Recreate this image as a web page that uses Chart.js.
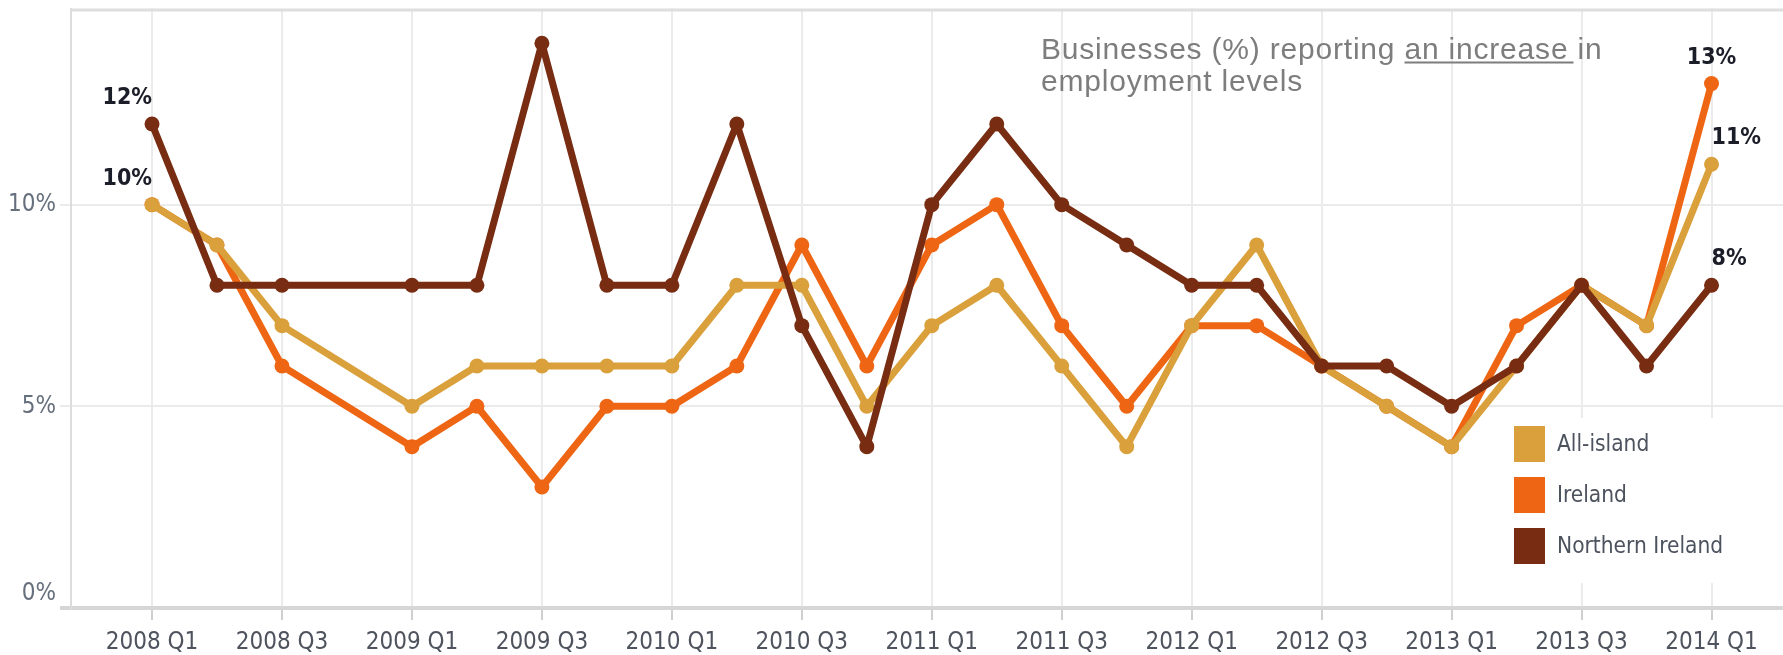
<!DOCTYPE html>
<html>
<head>
<meta charset="utf-8">
<title>Employment levels</title>
<script src="https://cdn.jsdelivr.net/npm/chart.js@4.4.1/dist/chart.umd.min.js"></script>
<style>
  html, body { margin: 0; padding: 0; background: #fff; }
  #wrap { width: 1783px; height: 655px; position: relative; }
</style>
</head>
<body>
<div id="wrap"><canvas id="employmentChart"></canvas></div>
<script>
const quarters = ['2008 Q1', '2008 Q2', '2008 Q3', '2008 Q4', '2009 Q1', '2009 Q2', '2009 Q3', '2009 Q4',
  '2010 Q1', '2010 Q2', '2010 Q3', '2010 Q4', '2011 Q1', '2011 Q2', '2011 Q3', '2011 Q4',
  '2012 Q1', '2012 Q2', '2012 Q3', '2012 Q4', '2013 Q1', '2013 Q2', '2013 Q3', '2013 Q4', '2014 Q1'];
const allIsland = [10, 9, 7, null, 5, 6, 6, 6, 6, 8, 8, 5, 7, 8, 6, 4, 7, 9, 6, 5, 4, 6, 8, 7, 11];
const ireland = [10, 9, 6, null, 4, 5, 3, 5, 5, 6, 9, 6, 9, 10, 7, 5, 7, 7, 6, 5, 4, 7, 8, 7, 13];
const northernIreland = [12, 8, 8, null, 8, 8, 14, 8, 8, 12, 7, 4, 10, 12, 10, 9, 8, 8, 6, 6, 5, 6, 8, 6, 8];
const yTicks = [0, 5, 10];

const NARROW = "'DejaVu Sans Condensed', 'Liberation Sans Narrow', 'Arial Narrow', sans-serif";
const WIDE = "'Liberation Sans', Arial, sans-serif";

function points(values) {
  return values.map((v, i) => ({ x: i, y: v }));
}

// frame line along the top of the plot
const topBorder = {
  id: 'topBorder',
  beforeDatasetsDraw(chart) {
    const { ctx, chartArea } = chart;
    ctx.save();
    ctx.strokeStyle = '#dedede';
    ctx.lineWidth = 3;
    ctx.beginPath();
    ctx.moveTo(chartArea.left, chartArea.top + 1);
    ctx.lineTo(chartArea.right, chartArea.top + 1);
    ctx.stroke();
    ctx.restore();
  }
};

// value labels at the first and last quarter
const endLabels = {
  id: 'endLabels',
  afterDatasetsDraw(chart) {
    const ctx = chart.ctx;
    ctx.save();
    ctx.font = 'bold 23px ' + NARROW;
    ctx.fillStyle = '#1b1e28';
    ctx.textBaseline = 'middle';
    chart.data.datasets.forEach((ds, di) => {
      const meta = chart.getDatasetMeta(di);
      const ends = [[0, ds.startAlign], [ds.data.length - 1, ds.endAlign]];
      ends.forEach(([i, align]) => {
        if (!align) return;
        const pt = meta.data[i];
        ctx.textAlign = align;
        ctx.fillText(ds.data[i].y + '%', pt.x, pt.y - 26);
      });
    });
    ctx.restore();
  }
};

// title text inside the plot, with the underlined phrase
const noteText = {
  id: 'noteText',
  afterDraw(chart) {
    const ctx = chart.ctx;
    const x = 1041, y1 = 58.5, y2 = 91;
    const lead = 'Businesses (%) reporting ', mark = 'an increase ', tail = 'in';
    ctx.save();
    ctx.font = '30px ' + WIDE;
    ctx.letterSpacing = '0.8px';
    ctx.fillStyle = '#7d7d7d';
    ctx.textAlign = 'left';
    ctx.textBaseline = 'alphabetic';
    ctx.fillText(lead + mark + tail, x, y1);
    ctx.fillText('employment levels', x, y2);
    const ux = x + ctx.measureText(lead).width;
    const uw = ctx.measureText(mark).width;
    ctx.fillRect(ux, y1 + 3, uw - 4, 2);
    ctx.restore();
  }
};

// boxed legend in the lower right of the plot
const boxLegend = {
  id: 'boxLegend',
  afterDatasetsDraw(chart) {
    const { ctx, chartArea } = chart;
    const left = chartArea.right - 278, top = chartArea.bottom - 190;
    ctx.save();
    ctx.fillStyle = '#ffffff';
    ctx.fillRect(left, top, 271, 165);
    ctx.font = '22.5px ' + NARROW;
    ctx.textAlign = 'left';
    ctx.textBaseline = 'middle';
    chart.data.datasets.forEach((ds, i) => {
      const sy = top + 8 + i * 51;
      ctx.fillStyle = ds.borderColor;
      ctx.fillRect(left + 9, sy, 31, 36);
      ctx.fillStyle = '#4c525e';
      ctx.fillText(ds.label, left + 52, sy + 19);
    });
    ctx.restore();
  }
};

const ctx = document.getElementById('employmentChart').getContext('2d');
const employmentChart = new Chart(ctx, {
  type: 'line',
  data: {
    datasets: [{
      label: 'All-island',
      data: points(allIsland),
      borderColor: '#d9a03b',
      backgroundColor: '#d9a03b',
      order: 1,
      startAlign: 'right',
      endAlign: 'left'
    }, {
      label: 'Ireland',
      data: points(ireland),
      borderColor: '#ee6614',
      backgroundColor: '#ee6614',
      order: 2,
      startAlign: null,
      endAlign: 'center'
    }, {
      label: 'Northern Ireland',
      data: points(northernIreland),
      borderColor: '#782d13',
      backgroundColor: '#782d13',
      order: 0,
      startAlign: 'right',
      endAlign: 'left'
    }]
  },
  options: {
    responsive: true,
    maintainAspectRatio: false,
    animation: false,
    spanGaps: true,
    layout: { autoPadding: false, padding: { top: 9, left: 0, right: 0, bottom: 0 } },
    elements: {
      line: { borderWidth: 7, tension: 0, borderJoinStyle: 'round', borderCapStyle: 'round' },
      point: { radius: 7.5, hoverRadius: 7.5, borderWidth: 0 }
    },
    scales: {
      x: {
        type: 'linear',
        min: -1.247,
        max: 25.1,
        afterBuildTicks(scale) {
          scale.ticks = quarters.map((q, i) => ({ value: i }));
        },
        afterFit(scale) {
          scale.height = 47;
          scale.paddingLeft = 0;
          scale.paddingRight = 0;
        },
        ticks: {
          autoSkip: false,
          maxRotation: 0,
          padding: 8,
          color: '#4e535d',
          font: { family: NARROW, size: 24 },
          callback: (v) => (v % 2 === 0 ? quarters[v] : '')
        },
        grid: {
          color: (c) => (c.index % 2 === 0 ? '#ebebeb' : 'rgba(0,0,0,0)'),
          tickColor: (c) => (c.index % 2 === 0 ? '#cfcfcf' : 'rgba(0,0,0,0)'),
          lineWidth: 2,
          tickLength: 12
        },
        border: { display: true, color: '#d6d6d6', width: 4 }
      },
      y: {
        min: 0,
        max: 14.85,
        afterBuildTicks(scale) {
          scale.ticks = yTicks.map((v) => ({ value: v }));
        },
        afterFit(scale) {
          scale.width = 71;
          scale.paddingTop = 0;
          scale.paddingBottom = 0;
        },
        ticks: {
          padding: 4,
          color: '#66707d',
          font: { family: NARROW, size: 24 },
          // the baseline label sits just above the axis line
          callback: (v) => (v === 0 ? [v + '%', ''] : v + '%')
        },
        grid: {
          color: (c) => (c.tick && c.tick.value === 0 ? '#d6d6d6' : '#ebebeb'),
          lineWidth: (c) => (c.tick && c.tick.value === 0 ? 4 : 2),
          tickLength: 11
        },
        border: { display: true, color: '#dcdcdc', width: 2 }
      }
    },
    plugins: {
      legend: { display: false },
      title: { display: false },
      tooltip: { enabled: false }
    }
  },
  plugins: [topBorder, endLabels, noteText, boxLegend]
});
</script>
</body>
</html>
